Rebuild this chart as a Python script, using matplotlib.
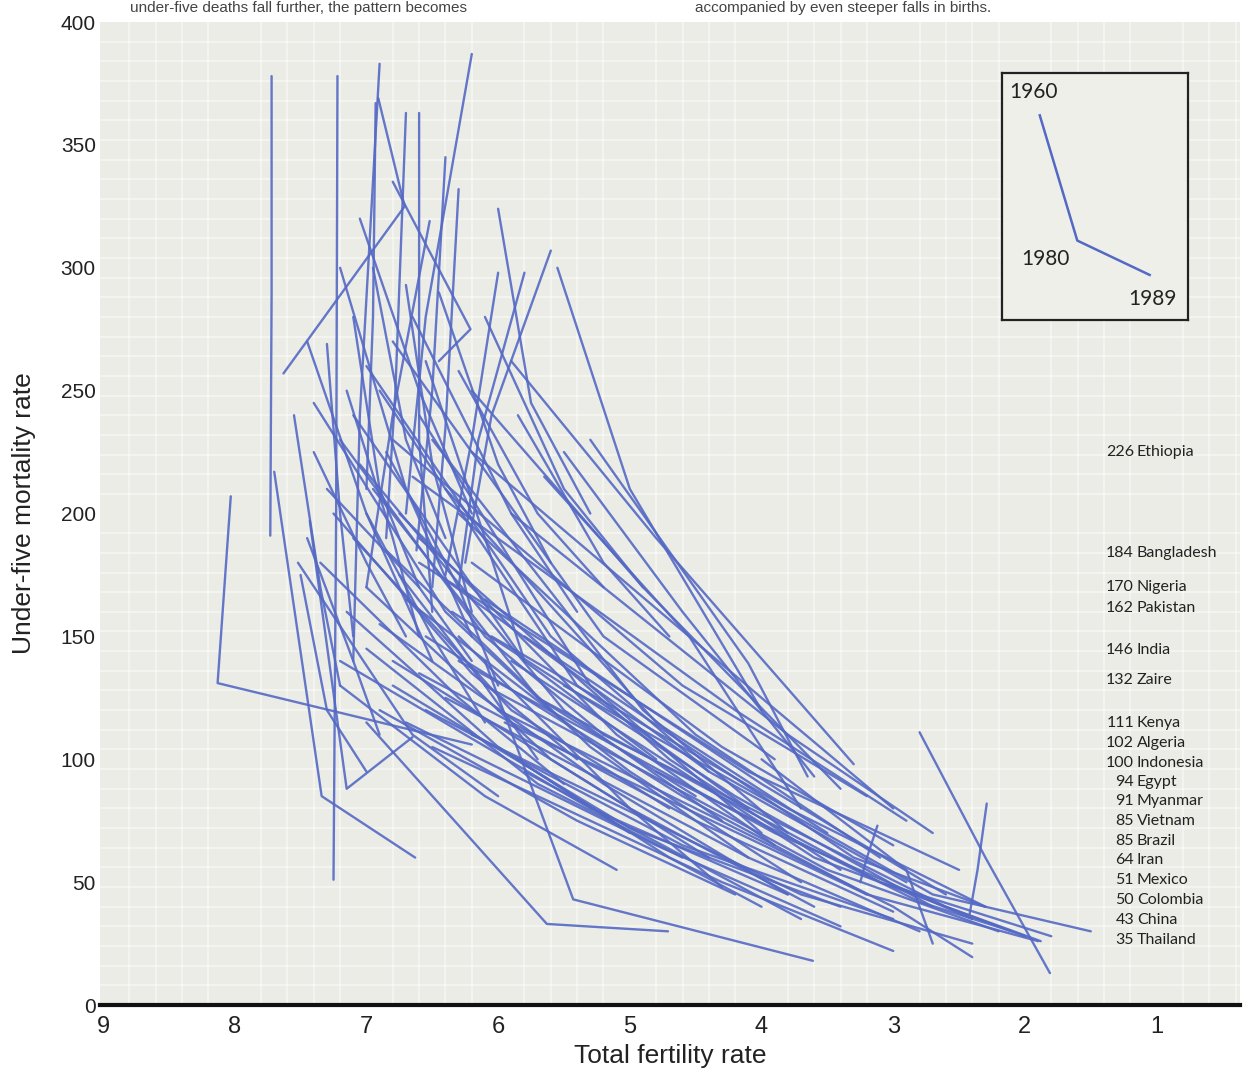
import matplotlib
matplotlib.use("Agg")
import matplotlib.pyplot as plt
import numpy as np

# ---------------- data ----------------
tfr_1960 = [7.72, 7.22, 6.90, 6.20, 6.91, 6.80, 6.70, 6.60, 6.40, 6.30, 6.00, 5.60, 5.80, 6.93, 6.52,
            6.70, 6.00, 6.30, 5.50, 7.30, 8.03, 7.70, 5.55, 5.90, 5.30, 6.20, 5.65, 7.00, 7.10, 7.20,
            6.90, 6.80, 7.40, 7.05, 6.60, 6.50, 6.95, 7.25, 6.75, 6.40, 7.10, 6.85, 6.60, 6.30, 7.35,
            7.00, 6.70, 6.45, 6.20, 7.15, 6.90, 6.55, 6.35, 6.10, 7.00, 6.80, 6.60, 6.30, 6.05, 7.20,
            6.90, 6.70, 6.40, 6.10, 5.90, 6.50, 6.20, 5.95, 5.70, 6.10, 7.00, 5.50, 2.80, 2.29, 3.12,
            4.00, 5.80, 6.00, 5.20, 4.80, 6.80, 6.65, 6.20, 5.90, 6.60, 7.30, 7.40, 7.45, 7.50, 7.55,
            7.10, 6.95, 7.05, 6.45, 6.10, 5.85, 6.65, 7.20, 6.55, 7.45, 6.85, 7.00, 6.75, 7.15, 7.52,
            7.43, 6.80, 6.55, 7.20, 6.30, 6.00, 5.80]
u5mr_1960 = [378, 378, 383, 387, 369, 335, 363, 363, 345, 332, 324, 307, 298, 367, 319,
             293, 298, 258, 225, 269, 207, 217, 300, 262, 230, 250, 215, 260, 240, 230,
             250, 270, 245, 220, 240, 230, 210, 200, 200, 210, 190, 185, 190, 200, 180,
             170, 165, 175, 180, 160, 155, 150, 160, 165, 145, 140, 135, 140, 150, 130,
             120, 115, 125, 130, 140, 105, 110, 115, 125, 140, 115, 130, 111, 82, 73,
             100, 150, 120, 110, 95, 230, 215, 225, 200, 180, 210, 225, 190, 175, 240,
             280, 300, 320, 290, 280, 240, 280, 300, 262, 270, 225, 200, 175, 250, 180,
             197, 130, 120, 140, 150, 105, 95]
tfr_1980 = [7.72, 7.23, 7.05, 6.55, 6.71, 6.21, 6.78, 6.60, 6.50, 6.40, 5.75, 6.05, 6.15, 6.95, 6.80,
            6.50, 6.20, 5.70, 4.60, 7.20, 8.13, 7.34, 5.00, 4.80, 4.10, 4.90, 4.55, 5.60, 5.80, 6.10,
            5.40, 5.20, 6.40, 5.50, 5.30, 4.90, 5.70, 6.20, 5.10, 4.80, 5.90, 5.30, 4.70, 4.50, 6.30,
            5.60, 5.00, 4.40, 4.30, 6.00, 5.20, 4.60, 4.20, 4.00, 5.70, 5.00, 4.50, 3.90, 3.80, 6.10,
            5.40, 4.80, 4.10, 3.50, 3.60, 4.30, 3.70, 3.20, 3.10, 5.43, 5.63, 2.70, 2.30, 2.36, 3.20,
            2.90, 3.30, 3.00, 2.60, 2.80, 4.60, 4.20, 4.00, 3.80, 4.10, 6.60, 7.00, 7.10, 7.30, 7.35,
            6.90, 6.70, 6.60, 6.00, 5.50, 5.20, 5.90, 6.70, 6.10, 7.00, 6.30, 6.50, 6.10, 6.80, 6.65,
            7.15, 5.00, 4.60, 5.30, 5.00, 4.70, 4.40]
u5mr_1980 = [290, 200, 240, 280, 325, 275, 250, 230, 250, 235, 245, 240, 230, 280, 240,
             220, 230, 200, 160, 200, 131, 85, 210, 190, 139, 170, 150, 150, 140, 150,
             130, 150, 160, 120, 130, 120, 125, 135, 110, 115, 120, 105, 100, 110, 125,
             100, 95, 95, 105, 105, 90, 85, 85, 90, 90, 80, 75, 70, 80, 85,
             75, 65, 60, 55, 60, 50, 45, 45, 50, 43, 33, 45, 60, 55, 60,
             55, 60, 40, 40, 42, 130, 120, 125, 110, 95, 170, 180, 140, 120, 170,
             210, 230, 250, 220, 210, 180, 200, 210, 190, 200, 170, 150, 130, 190, 110,
             88, 72, 65, 80, 80, 60, 55]
tfr_1989 = [7.73, 7.25, 7.10, 6.70, 7.63, 6.45, 6.85, 6.50, 6.62, 6.50, 5.30, 6.25, 6.30, 7.00, 7.00,
            6.20, 6.40, 5.20, 3.60, 7.10, 6.20, 6.63, 4.00, 3.30, 3.65, 3.40, 3.70, 4.40, 4.80, 5.20,
            4.10, 3.90, 5.60, 4.30, 4.00, 3.80, 4.50, 5.40, 3.90, 3.50, 4.70, 4.10, 3.40, 3.10, 5.50,
            4.40, 3.70, 2.90, 3.00, 5.00, 3.80, 3.20, 2.70, 2.60, 4.60, 3.60, 3.00, 2.40, 2.30, 5.10,
            4.20, 3.40, 2.80, 2.20, 2.00, 3.00, 2.40, 1.90, 1.80, 3.61, 4.71, 1.50, 1.81, 2.42, 3.25,
            2.70, 2.30, 2.40, 1.88, 2.10, 3.20, 2.90, 3.00, 2.70, 2.50, 6.20, 6.70, 6.90, 7.00, 7.20,
            6.60, 6.40, 6.20, 5.60, 4.90, 4.70, 5.40, 6.20, 5.80, 6.50, 6.00, 6.10, 5.70, 6.60, 6.00,
            6.65, 3.40, 3.00, 3.80, 4.30, 4.00, 3.70]
u5mr_1989 = [191, 51, 140, 200, 257, 262, 190, 160, 185, 170, 200, 180, 170, 210, 170,
             160, 175, 170, 93, 150, 106, 60, 120, 98, 93, 88, 80, 95, 100, 110,
             80, 100, 120, 75, 70, 70, 85, 100, 65, 70, 80, 60, 55, 60, 90,
             60, 50, 50, 65, 70, 45, 45, 40, 45, 60, 40, 38, 35, 40, 55,
             45, 32, 30, 30, 28, 22, 25, 26, 28, 18, 30, 30, 13, 37, 50,
             25, 40, 19.5, 26, 30, 85, 75, 80, 70, 55, 140, 150, 110, 95, 130,
             170, 190, 200, 180, 170, 150, 160, 150, 140, 140, 130, 115, 100, 150, 85,
             109, 40, 35, 45, 48, 40, 35]

# labelled countries: 1989 under-five mortality
countries = ["Ethiopia", "Bangladesh", "Nigeria", "Pakistan", "India", "Zaire", "Kenya", "Algeria",
             "Indonesia", "Egypt", "Myanmar", "Vietnam", "Brazil", "Iran", "Mexico", "Colombia",
             "China", "Thailand"]
u5mr_labels = [226, 184, 170, 162, 146, 132, 111, 102, 100, 94, 91, 85, 85, 64, 51, 50, 43, 35]

# inset example path (1960, 1980, 1989)
example_years = ["1960", "1980", "1989"]
example_tfr = [1.885, 1.60, 1.05]
example_u5mr = [362, 311, 297]

x_ticks = [9, 8, 7, 6, 5, 4, 3, 2, 1]
y_ticks = [0, 50, 100, 150, 200, 250, 300, 350, 400]

# ---------------- layout ----------------
label_y = [225, 184, 170, 161.5, 144.5, 132.2, 114.8, 106.6, 98.5, 90.7, 83, 74.9, 66.7, 59,
           50.9, 42.7, 34.6, 26.5]
line_color = "#5469c4"
bg_color = "#ececE6"

fig = plt.figure(figsize=(12.5, 10.74), dpi=100)
fig.patch.set_facecolor("white")
ax = fig.add_axes([0.08, 0.0642, 0.912, 0.9153])
ax.set_facecolor(bg_color)
ax.set_xlim(9.023, 0.367)
ax.set_ylim(0, 400)

# faint texture grid
ax.set_xticks(np.arange(9.0, 0.3, -0.2), minor=True)
ax.set_yticks(np.arange(0, 400, 8), minor=True)
ax.grid(which="minor", color="white", lw=1.2, alpha=0.5)
ax.set_axisbelow(True)

for i in range(len(tfr_1960)):
    ax.plot([tfr_1960[i], tfr_1980[i], tfr_1989[i]],
            [u5mr_1960[i], u5mr_1980[i], u5mr_1989[i]],
            color=line_color, lw=1.7, alpha=0.9, solid_capstyle="round", zorder=3)

for sp in ["top", "right", "left"]:
    ax.spines[sp].set_visible(False)
ax.spines["bottom"].set_linewidth(3)
ax.spines["bottom"].set_color("#111111")

ax.set_xticks(x_ticks)
ax.set_xticklabels([str(v) for v in x_ticks])
ax.set_yticks(y_ticks)
ax.set_yticklabels([str(v) for v in y_ticks])
ax.tick_params(which="both", length=0)
ax.tick_params(axis="x", pad=8, labelsize=17, colors="#222222")
ax.tick_params(axis="y", pad=3, labelsize=15, colors="#222222")
for t in ax.get_xticklabels():
    t.set_family(["Liberation Sans Narrow", "Liberation Sans"])
for t in ax.get_yticklabels():
    t.set_family(["Liberation Sans"])

ax.set_xlabel("Total fertility rate", family=["Liberation Sans Narrow", "Liberation Sans"],
              fontsize=19, color="#222222", labelpad=4)
ax.set_ylabel("Under-five mortality rate", family=["Liberation Sans Narrow", "Liberation Sans"],
              fontsize=19, color="#222222", labelpad=18)

# country labels
for name, val, ly in zip(countries, u5mr_labels, label_y):
    ax.text(1.172, ly, str(val), ha="right", va="center", fontsize=11.5,
            family=["Lato", "DejaVu Sans"], color="#222222", zorder=5)
    ax.text(1.150, ly, name, ha="left", va="center", fontsize=11.5,
            family=["Lato", "DejaVu Sans"], color="#222222", zorder=5)

# inset
ins = ax.inset_axes([0.791, 0.697, 0.163, 0.251])
ins.set_facecolor("#efefea")
ins.set_xlim(2.174, 0.762)
ins.set_ylim(278.7, 379.2)
ins.set_xticks([])
ins.set_yticks([])
for sp in ins.spines.values():
    sp.set_linewidth(1.6)
    sp.set_color("#222222")
ins.plot(example_tfr, example_u5mr, color=line_color, lw=1.8)
offsets = [(0.045, 9.5), (0.24, -7.5), (-0.02, -10)]
for yr, xv, yv, (dx, dy) in zip(example_years, example_tfr, example_u5mr, offsets):
    ins.text(xv + dx, yv + dy, yr, ha="center", va="center", fontsize=15,
             family=["Lato", "DejaVu Sans"], color="#222222")

# caption text at the very top
fig.text(0.104, 0.9995, "under-five deaths fall further, the pattern becomes", fontsize=11,
         family=["Liberation Sans"], color="#444444", va="top", ha="left")
fig.text(0.556, 0.9995, "accompanied by even steeper falls in births.", fontsize=11,
         family=["Liberation Sans"], color="#444444", va="top", ha="left")

fig.savefig("out.png", dpi=100)
